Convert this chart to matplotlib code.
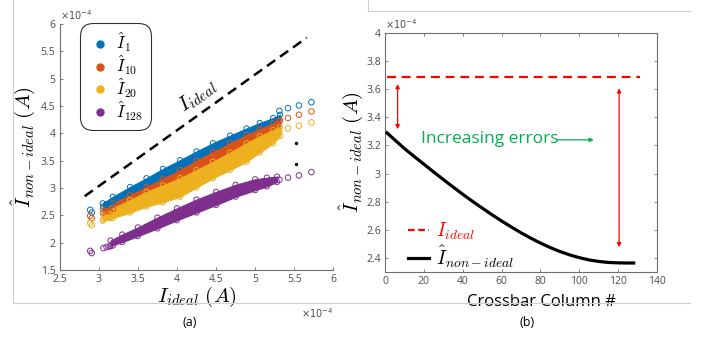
import matplotlib
matplotlib.use("Agg")
import matplotlib.pyplot as plt
from matplotlib.lines import Line2D

plt.rcParams["mathtext.fontset"] = "cm"
plt.rcParams["font.family"] = ["Open Sans", "DejaVu Sans"]

# ---------------------------------------------------------------------------
# (a) scatter data, currents in units of 1e-4 A
# ---------------------------------------------------------------------------
# dense part of each cloud, read as upper / lower outline
band_x = [3.05, 3.18, 3.40, 3.61, 3.82, 4.04, 4.25, 4.46, 4.68, 4.89, 5.06, 5.23, 5.32]
blue_hi = [2.72, 2.84, 3.02, 3.18, 3.35, 3.51, 3.67, 3.82, 3.96, 4.09, 4.19, 4.28, 4.34]
blue_lo = [2.52, 2.60, 2.72, 2.86, 2.97, 3.10, 3.25, 3.40, 3.56, 3.72, 3.86, 3.98, 4.06]
orange_hi = [2.62, 2.72, 2.87, 3.02, 3.17, 3.33, 3.50, 3.66, 3.82, 3.97, 4.08, 4.18, 4.24]
orange_lo = [2.45, 2.52, 2.62, 2.75, 2.85, 2.96, 3.12, 3.28, 3.44, 3.59, 3.74, 3.88, 3.99]
yellow_hi = [2.53, 2.63, 2.78, 2.93, 3.05, 3.18, 3.33, 3.48, 3.65, 3.82, 3.95, 4.06, 4.12]
yellow_lo = [2.40, 2.45, 2.55, 2.66, 2.74, 2.84, 3.01, 3.18, 3.33, 3.48, 3.65, 3.82, 3.95]

purple_x = [3.15, 3.30, 3.50, 3.75, 4.00, 4.25, 4.50, 4.75, 5.00, 5.15, 5.28]
purple_hi = [2.04, 2.15, 2.28, 2.46, 2.63, 2.79, 2.93, 3.06, 3.16, 3.19, 3.21]
purple_lo = [1.94, 2.01, 2.12, 2.26, 2.41, 2.55, 2.69, 2.84, 2.96, 3.03, 3.11]

# sparse samples at both ends of the clouds
sparse_x = [2.89, 2.91, 3.06, 3.10, 3.14, 3.18, 5.31, 5.42, 5.56, 5.72]
blue_sy = [2.60, 2.55, 2.66, 2.70, 2.68, 2.74, 4.41, 4.46, 4.51, 4.57]
orange_sy = [2.49, 2.45, 2.55, 2.58, 2.57, 2.62, 4.22, 4.28, 4.34, 4.40]
yellow_sy = [2.36, 2.32, 2.43, 2.46, 2.45, 2.50, 4.03, 4.09, 4.14, 4.20]
purple_sy = [1.85, 1.81, 1.90, 1.92, 1.93, 1.95, 3.15, 3.19, 3.23, 3.29]

dots_x = [5.52, 5.52]
dots_y = [3.83, 3.43]

ideal_x = [2.82, 5.66]
ideal_y = [2.85, 5.75]

series_labels = [r"$\hat{I}_1$", r"$\hat{I}_{10}$", r"$\hat{I}_{20}$", r"$\hat{I}_{128}$"]
colors = ["#0072BD", "#D95319", "#EDB120", "#7E2F8E"]

# ---------------------------------------------------------------------------
# (b) column sweep, currents in units of 1e-4 A
# ---------------------------------------------------------------------------
col = [1, 5, 10, 15, 20, 25, 30, 35, 40, 45, 50, 55, 60, 65, 70, 75, 80, 85,
       90, 95, 100, 105, 110, 115, 120, 125, 128]
i_nonideal = [3.29, 3.24, 3.178, 3.122, 3.067, 3.012, 2.958, 2.905, 2.853,
              2.803, 2.755, 2.708, 2.663, 2.620, 2.579, 2.541, 2.506, 2.474,
              2.446, 2.422, 2.402, 2.386, 2.375, 2.368, 2.365, 2.364, 2.364]
ideal_col = [1, 131]
i_ideal = 3.685
err_small = (6.5, 3.637, 3.315)
err_large = (120.5, 3.607, 2.476)

W, H = 705, 337
fig = plt.figure(figsize=(W / 100, H / 100), dpi=100)

TICK_C = "#4d4d4d"
AX_C = "#6e6e6e"

# ---------------------------------------------------------------------------
# panel (a)
# ---------------------------------------------------------------------------
ax1 = fig.add_axes([59.7 / W, 1 - 270 / H, 273.6 / W, 246 / H])

bands = [
    (blue_hi, blue_lo, colors[0]),
    (orange_hi, orange_lo, colors[1]),
    (yellow_hi, yellow_lo, colors[2]),
]
for hi, lo, c in bands:
    ax1.fill_between(band_x, lo, hi, color=c, lw=0.8, edgecolor=c, zorder=2)
    ax1.scatter(band_x, hi, s=14, facecolors="none", edgecolors=c, lw=0.7, zorder=2)
ax1.scatter(band_x, yellow_lo, s=14, facecolors="none", edgecolors=colors[2], lw=0.7, zorder=3)
ax1.fill_between(purple_x, purple_lo, purple_hi, color=colors[3], lw=0.8,
                 edgecolor=colors[3], zorder=2)
ax1.scatter(purple_x, purple_hi, s=14, facecolors="none", edgecolors=colors[3], lw=0.7, zorder=2)
ax1.scatter(purple_x, purple_lo, s=14, facecolors="none", edgecolors=colors[3], lw=0.7, zorder=2)

for sy, c in zip([blue_sy, orange_sy, yellow_sy, purple_sy], colors):
    ax1.scatter(sparse_x, sy, s=16, facecolors="none", edgecolors=c, lw=0.7, zorder=3)

ax1.scatter(dots_x, dots_y, s=2, color="black", zorder=3)

ax1.plot(ideal_x, ideal_y, color="black", lw=1.8, linestyle=(0, (4, 2.4)), zorder=4)
ax1.text(4.27, 4.68, r"$I_{ideal}$", fontsize=15, rotation=36,
         ha="center", va="center", zorder=5)

ax1.set_xlim(2.5, 6)
ax1.set_ylim(1.5, 6)
xt = [2.5, 3, 3.5, 4, 4.5, 5, 5.5, 6]
yt = [1.5, 2, 2.5, 3, 3.5, 4, 4.5, 5, 5.5, 6]
ax1.set_xticks(xt)
ax1.set_xticklabels([f"{v:g}" for v in xt])
ax1.set_yticks(yt)
ax1.set_yticklabels([f"{v:g}" for v in yt])
for s in ("top", "right"):
    ax1.spines[s].set_visible(False)
for s in ("left", "bottom"):
    ax1.spines[s].set_color(AX_C)
    ax1.spines[s].set_linewidth(0.8)
ax1.tick_params(direction="in", length=2.5, width=0.6, color=AX_C,
                labelcolor=TICK_C, labelsize=7.5, pad=3)

ax1.set_xlabel(r"$I_{ideal}\ (A)$", fontsize=15, labelpad=0)
ax1.set_ylabel(r"$\hat{I}_{non-ideal}\ (A)$", fontsize=15, labelpad=3)
ax1.text(0.0, 1.005, r"$\times10^{-4}$", transform=ax1.transAxes, fontsize=7,
         color=TICK_C, ha="left", va="bottom", math_fontfamily="dejavusans")
ax1.text(1.0, -0.18, r"$\times10^{-4}$", transform=ax1.transAxes, fontsize=7,
         color=TICK_C, ha="right", va="center", math_fontfamily="dejavusans")

handles = [Line2D([], [], marker="o", ls="none", color=c, markersize=5) for c in colors]
leg = ax1.legend(handles, series_labels, loc="upper left",
                 bbox_to_anchor=(0.085, 0.99), fontsize=12, frameon=True,
                 fancybox=True, handlelength=1.5, handletextpad=0.25,
                 labelspacing=-0.05, borderpad=0.25, borderaxespad=0)
leg.get_frame().set_edgecolor("black")
leg.get_frame().set_linewidth(0.8)
leg.get_frame().set_boxstyle("round,pad=0.2,rounding_size=0.8")

# ---------------------------------------------------------------------------
# panel (b)
# ---------------------------------------------------------------------------
ax2 = fig.add_axes([385 / W, 1 - 272 / H, 272 / W, 239 / H])

ax2.plot(ideal_col, [i_ideal, i_ideal], color="#FF0000", lw=1.6,
         linestyle=(0, (4, 2.6)), zorder=3)
ax2.plot(col, i_nonideal, color="black", lw=2.3, zorder=3)

for x, y0, y1 in (err_small, err_large):
    ax2.annotate("", xy=(x, y1), xytext=(x, y0),
                 arrowprops=dict(arrowstyle="<|-|>", color="#FF0000", lw=0.9,
                                 mutation_scale=6, shrinkA=0, shrinkB=0))

ax2.text(18.5, 3.245, "Increasing errors", fontsize=12.5, color="#00B050",
         ha="left", va="center")
ax2.annotate("", xy=(107.5, 3.24), xytext=(88.5, 3.24),
             arrowprops=dict(arrowstyle="-|>", color="#00B050", lw=0.9,
                             mutation_scale=6, shrinkA=0, shrinkB=0))

ax2.set_xlim(0, 140)
ax2.set_ylim(2.3, 4)
xt2 = [0, 20, 40, 60, 80, 100, 120, 140]
yt2 = [2.4, 2.6, 2.8, 3, 3.2, 3.4, 3.6, 3.8, 4]
ax2.set_xticks(xt2)
ax2.set_xticklabels([f"{v:g}" for v in xt2])
ax2.set_yticks(yt2)
ax2.set_yticklabels([f"{v:g}" for v in yt2])
for s in ax2.spines.values():
    s.set_color(AX_C)
    s.set_linewidth(0.8)
ax2.tick_params(direction="in", length=2.5, width=0.6, color=AX_C,
                labelcolor=TICK_C, labelsize=7.5, pad=3,
                top=True, right=True)
ax2.set_xlabel("Crossbar Column #", fontsize=12)
ax2.xaxis.set_label_coords((541 - 385) / 272, -(301.5 - 272) / 239)
ax2.xaxis.label.set_va("center")
ax2.set_ylabel(r"$\hat{I}_{non-ideal}\ (A)$", fontsize=15)
ax2.yaxis.set_label_coords((351 - 385) / 272, 0.5)
ax2.yaxis.label.set_va("center")
ax2.text(0.0, 1.005, r"$\times10^{-4}$", transform=ax2.transAxes, fontsize=7,
         color=TICK_C, ha="left", va="bottom", math_fontfamily="dejavusans")

h2 = [Line2D([], [], color="#FF0000", lw=1.6, linestyle=(0, (3, 1.6))),
      Line2D([], [], color="black", lw=2.3)]
leg2 = ax2.legend(h2, [r"$I_{ideal}$", r"$\hat{I}_{non-ideal}$"], loc="lower left",
                  bbox_to_anchor=(0.02, -0.065), fontsize=14, frameon=False,
                  handlelength=1.1, handletextpad=0.35, labelspacing=0.05)
leg2.get_texts()[0].set_color("#FF0000")

# ---------------------------------------------------------------------------
# panel frames and captions
# ---------------------------------------------------------------------------
FRAME_C = "#cfcfcf"
fig.add_artist(Line2D([13 / W, 13 / W], [1, 1 - 303 / H], color=FRAME_C, lw=0.8))
fig.add_artist(Line2D([13 / W, 690 / W], [1 - 303 / H, 1 - 303 / H], color=FRAME_C, lw=0.8))
fig.add_artist(Line2D([368 / W, 368 / W], [1, 1 - 10.5 / H], color=FRAME_C, lw=0.8))
fig.add_artist(Line2D([368 / W, 690 / W], [1 - 10.5 / H, 1 - 10.5 / H], color=FRAME_C, lw=0.8))

fig.text(190 / W, 1 - 322 / H, "(a)", fontsize=9, ha="center", va="center")
fig.text(527 / W, 1 - 322 / H, "(b)", fontsize=9, ha="center", va="center")

fig.savefig("out.png", dpi=100)
